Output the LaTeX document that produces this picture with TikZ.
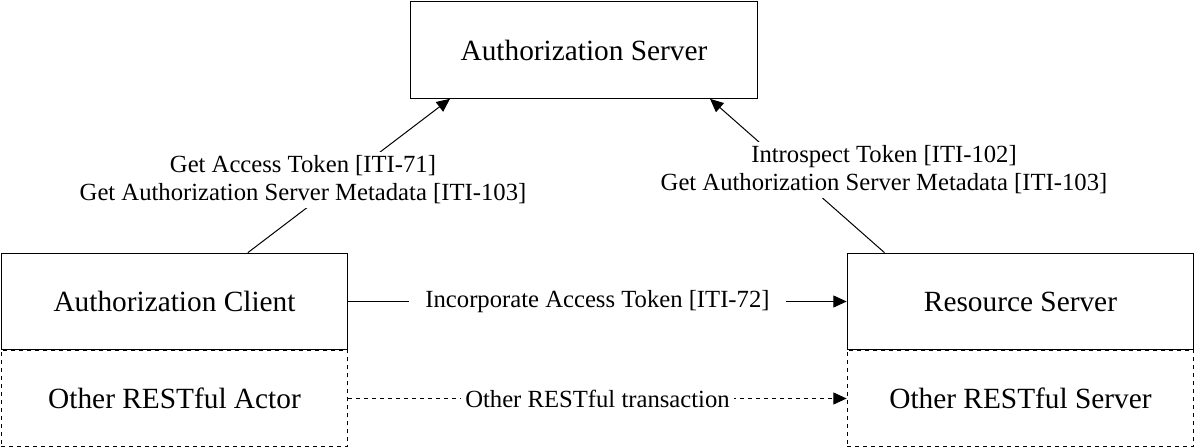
\documentclass[tikz,border=0pt]{standalone}
\usepackage{fontspec}
\setmainfont{Liberation Serif}
\usetikzlibrary{arrows.meta,positioning}
\tikzset{every picture/.style={line width=0.75pt},
  actor/.style={draw,minimum width=260pt,minimum height=72.5pt,inner sep=0pt,font=\fontsize{22}{24}\selectfont},
  otheractor/.style={actor,dashed,fill=white},
  txlabel/.style={fill=white,inner sep=3pt,align=center,font=\fontsize{18.5}{21}\selectfont},
  txarrow/.style={-{Triangle[length=10pt,width=9pt]}}}
\begin{document}
\begin{tikzpicture}[x=0.75pt,y=0.75pt,yscale=-1,xscale=1]
\useasboundingbox (0,0) rectangle (1195,448);

% lower dashed boxes first
\node [otheractor] (other) at (174.5,398.5) {Other RESTful Actor};
\node [otheractor] (otherserver) at (1020.5,398.5) {Other RESTful Server};
% actors
\node [actor,fill=white] (authserver) at (584,50) {Authorization Server};
\node [actor,fill=white] (client) at (174.5,301.5) {Authorization Client};
\node [actor,fill=white] (resource) at (1020.5,301.5) {Resource Server};

% client to authorization server
\draw [txarrow] ([xshift=55pt]client.north) -- ([xshift=-100.5pt]authserver.south);
\node [txlabel] (clientlabel) at (303,180) {Get Access Token [ITI-71]\\Get Authorization Server Metadata [ITI-103]};
% resource server to authorization server
\draw [txarrow] ([xshift=-102pt]resource.north) -- ([xshift=94.5pt]authserver.south);
\node [txlabel] (resourcelabel) at (884,170) {Introspect Token [ITI-102]\\Get Authorization Server Metadata [ITI-103]};
% client to resource server
\draw [txarrow] (client.east) -- node [txlabel,inner xsep=12pt] (incorporate) {Incorporate Access Token [ITI-72]} (resource.west);
% other RESTful transaction
\draw [txarrow,dashed] (other.east) -- node [txlabel] (otherlabel) {Other RESTful transaction} (otherserver.west);

\end{tikzpicture}
\end{document}
